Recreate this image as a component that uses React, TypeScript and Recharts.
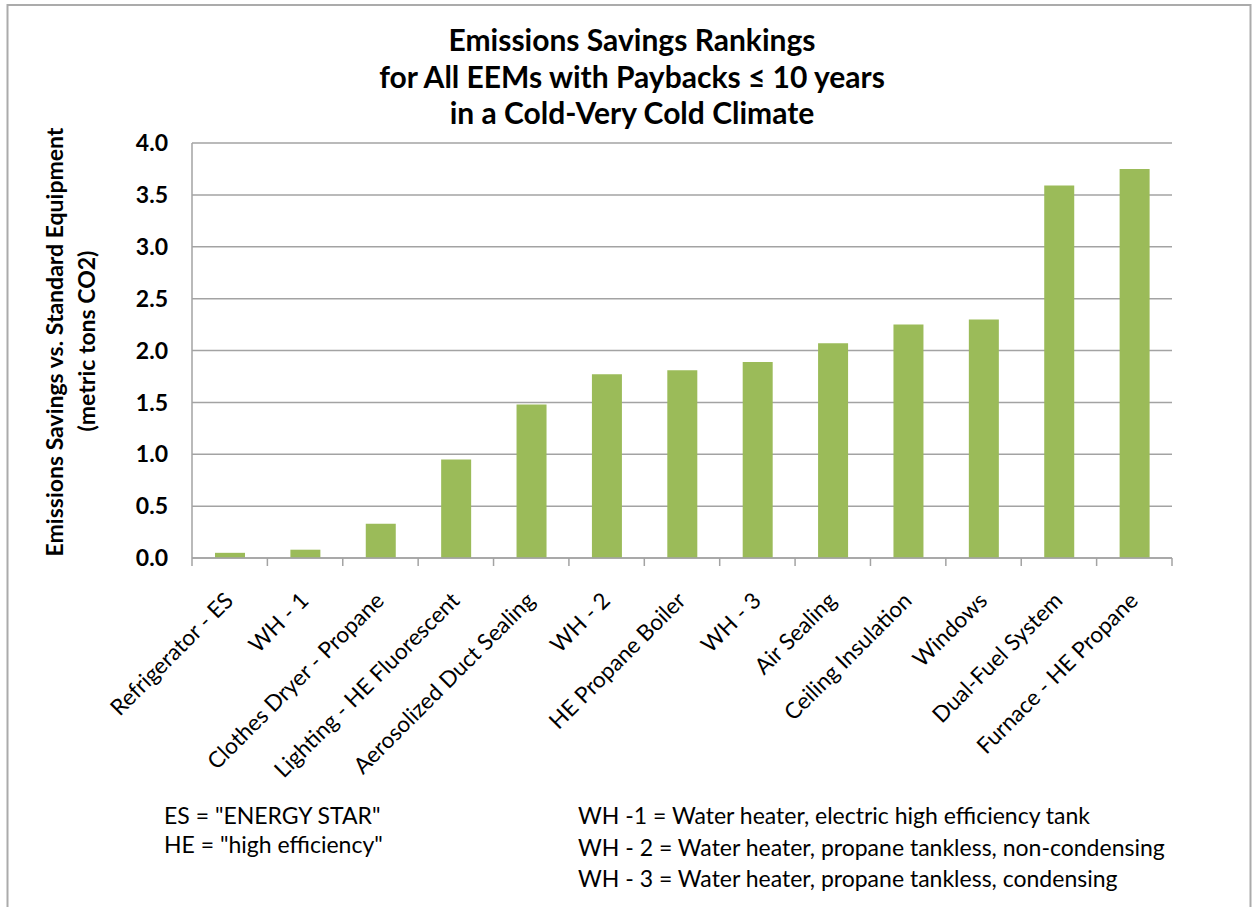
import React from 'react'
import { BarChart, Bar, XAxis, YAxis, CartesianGrid } from 'recharts'

const categories = [
  'Refrigerator - ES',
  'WH - 1',
  'Clothes Dryer - Propane',
  'Lighting - HE Fluorescent',
  'Aerosolized Duct Sealing',
  'WH - 2',
  'HE Propane Boiler',
  'WH - 3',
  'Air Sealing',
  'Ceiling Insulation',
  'Windows',
  'Dual-Fuel System',
  'Furnace - HE Propane',
]

// metric tons CO2 saved vs. standard equipment
const savings = [0.05, 0.08, 0.33, 0.95, 1.48, 1.77, 1.81, 1.89, 2.07, 2.25, 2.3, 3.59, 3.75]

const yTicks = [0, 0.5, 1, 1.5, 2, 2.5, 3, 3.5, 4]

const titleLines = [
  'Emissions Savings Rankings',
  'for All EEMs with Paybacks ≤ 10 years',
  'in a Cold-Very Cold Climate',
]

const yLabelLines = ['Emissions Savings vs. Standard Equipment', '(metric tons CO2)']

const notesLeft = ['ES = "ENERGY STAR"', 'HE = "high efficiency"']
const notesRight = [
  'WH -1 = Water heater, electric high efficiency tank',
  'WH - 2 = Water heater, propane tankless, non-condensing',
  'WH - 3 = Water heater, propane tankless, condensing',
]

const data = categories.map((name, i) => ({ name, value: savings[i] }))

const W = 1252
const H = 907
const FONT = 'Lato, "Open Sans", sans-serif'
const GREEN = '#9BBB59'
const GRID = '#a3a3a3'

const PLOT_LEFT = 192
const PLOT_RIGHT = 1172
const PLOT_TOP = 143
const PLOT_BOTTOM = 558
const Y_AXIS_W = 60
const X_AXIS_H = 150
const BAND = (PLOT_RIGHT - PLOT_LEFT) / categories.length

const CategoryTick = (props: any) => {
  const { x, payload, index } = props
  const half = BAND / 2
  const ax = x + 5
  const ay = PLOT_BOTTOM + 44
  return (
    <g>
      <line x1={x - half} x2={x - half} y1={PLOT_BOTTOM} y2={PLOT_BOTTOM + 8} stroke={GRID} strokeWidth={1.5} />
      {index === categories.length - 1 && (
        <line x1={x + half} x2={x + half} y1={PLOT_BOTTOM} y2={PLOT_BOTTOM + 8} stroke={GRID} strokeWidth={1.5} />
      )}
      <text
        x={ax}
        y={ay}
        transform={`rotate(-45, ${ax}, ${ay})`}
        textAnchor="end"
        fontFamily={FONT}
        fontSize={22.5}
        fill="#000"
      >
        {payload.value}
      </text>
    </g>
  )
}

export default function App() {
  return (
    <div style={{ position: 'absolute', left: 0, top: 0, width: W, height: H, background: '#fff', overflow: 'hidden' }}>
      <BarChart
        width={W}
        height={H}
        data={data}
        margin={{
          top: PLOT_TOP,
          right: W - PLOT_RIGHT,
          left: PLOT_LEFT - Y_AXIS_W,
          bottom: H - PLOT_BOTTOM - X_AXIS_H,
        }}
      >
        <CartesianGrid vertical={false} stroke={GRID} strokeWidth={1.5} />
        <XAxis
          dataKey="name"
          interval={0}
          height={X_AXIS_H}
          tickLine={false}
          axisLine={{ stroke: GRID, strokeWidth: 1.5 }}
          tick={<CategoryTick />}
        />
        <YAxis
          width={Y_AXIS_W}
          domain={[0, 4]}
          ticks={yTicks}
          interval={0}
          tickLine={false}
          tickSize={8}
          tickMargin={16}
          axisLine={{ stroke: GRID, strokeWidth: 1.5 }}
          tickFormatter={(v: number) => v.toFixed(1)}
          tick={{ fontFamily: FONT, fontSize: 23, fontWeight: 700, fill: '#000' }}
        />
        <Bar dataKey="value" fill={GREEN} barSize={30} isAnimationActive={false} />
      </BarChart>

      <svg width={W} height={H} style={{ position: 'absolute', left: 0, top: 0, pointerEvents: 'none' }}>
        <rect x={7.5} y={5} width={1243} height={H + 20} fill="none" stroke="#ababab" strokeWidth={2} />

        <g fontFamily={FONT} fontWeight={700} fontSize={30} textAnchor="middle" fill="#000">
          {titleLines.map((t, i) => (
            <text key={t} x={632} y={51 + i * 36.5}>
              {t}
            </text>
          ))}
        </g>

        <g fontFamily={FONT} fontWeight={700} fontSize={23} textAnchor="middle" fill="#000">
          <text x={63} y={342} transform="rotate(-90, 63, 342)">
            {yLabelLines[0]}
          </text>
          <text x={95} y={341} transform="rotate(-90, 95, 341)">
            {yLabelLines[1]}
          </text>
        </g>

        <g fontFamily={FONT} fontSize={23} fill="#000">
          {notesLeft.map((t, i) => (
            <text key={t} x={164} y={824 + i * 29}>
              {t}
            </text>
          ))}
          {notesRight.map((t, i) => (
            <text key={t} x={578} y={824 + i * 31.5}>
              {t}
            </text>
          ))}
        </g>
      </svg>
    </div>
  )
}
